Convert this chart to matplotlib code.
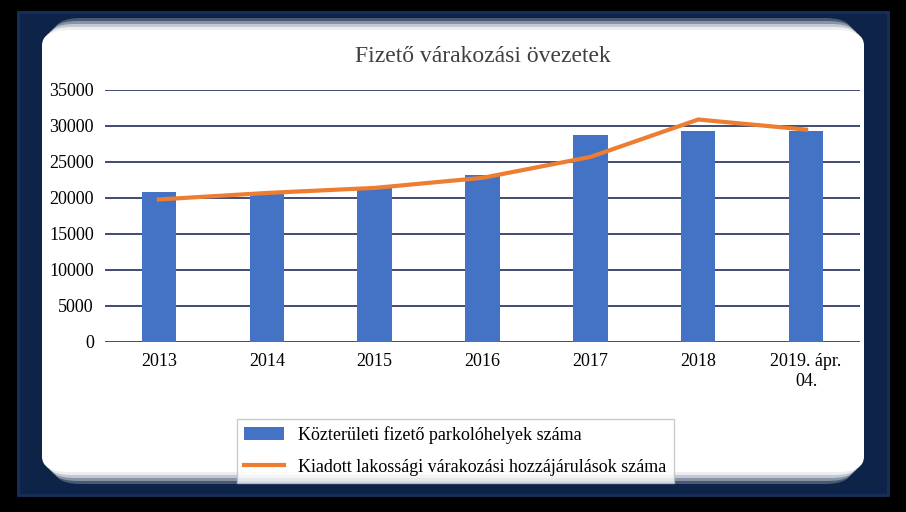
import matplotlib as mpl

mpl.use("Agg")
import matplotlib.pyplot as plt
from matplotlib.patches import Rectangle, FancyBboxPatch

categories = ["2013", "2014", "2015", "2016", "2017", "2018", "2019. ápr.\n04."]
parking_spaces = [20900, 20700, 21500, 23200, 28800, 29300, 29300]
permits = [19800, 20700, 21400, 22800, 25700, 30900, 29500]

W, H = 906, 512
plt.rcParams["font.family"] = "Liberation Serif"
fig = plt.figure(figsize=(W / 100, H / 100), dpi=100)
fig.patch.set_facecolor("black")

# navy frame and white glowing inner area, kept behind the axes
fig.patches.append(Rectangle((18 / W, 1 - 495 / H), 870 / W, 483 / H,
                             transform=fig.transFigure, facecolor="#0d2347",
                             edgecolor="#16305c", linewidth=2, zorder=-20))
for i, a in enumerate([0.25, 0.35, 0.5, 0.7, 1.0]):
    pad = 14 - i * 3
    fig.patches.append(FancyBboxPatch(((40 + pad) / W, 1 - (470 + pad) / H),
                                      (826 - 2 * pad) / W, (438 + 2 * pad) / H,
                                      boxstyle="round,pad=0,rounding_size=0.03",
                                      transform=fig.transFigure, facecolor="white",
                                      edgecolor="none", alpha=a, zorder=-10 + i))

ax = fig.add_axes([105 / W, 1 - 342 / H, 755 / W, 252 / H])
ax.set_facecolor("white")
x = list(range(len(categories)))
bars = ax.bar(x, parking_spaces, width=0.32, color="#4472C4", zorder=2,
              label="Közterületi fizető parkolóhelyek száma")
line, = ax.plot(x, permits, color="#ED7D31", linewidth=3, zorder=3,
                label="Kiadott lakossági várakozási hozzájárulások száma")
ax.set_xlim(-0.5, len(categories) - 0.5)
ax.set_ylim(0, 35000)
ax.set_yticks(range(0, 35001, 5000))
ax.set_xticks(x, categories)
ax.tick_params(length=0, labelsize=13, pad=8)
ax.grid(axis="y", color="#1f2f5a", linewidth=1.2, zorder=0)
for s in ax.spines.values():
    s.set_visible(False)
ax.set_title("Fizető várakozási övezetek", fontsize=17, color="#404040", pad=20)

fig.legend(handles=[bars, line], loc="upper left",
           bbox_to_anchor=(228 / W, 1 - 410 / H),
           fontsize=13, frameon=True, fancybox=False, edgecolor="#bfbfbf",
           handlelength=2.2, labelspacing=0.8)
plt.savefig("out.png", dpi=100, facecolor="black")
